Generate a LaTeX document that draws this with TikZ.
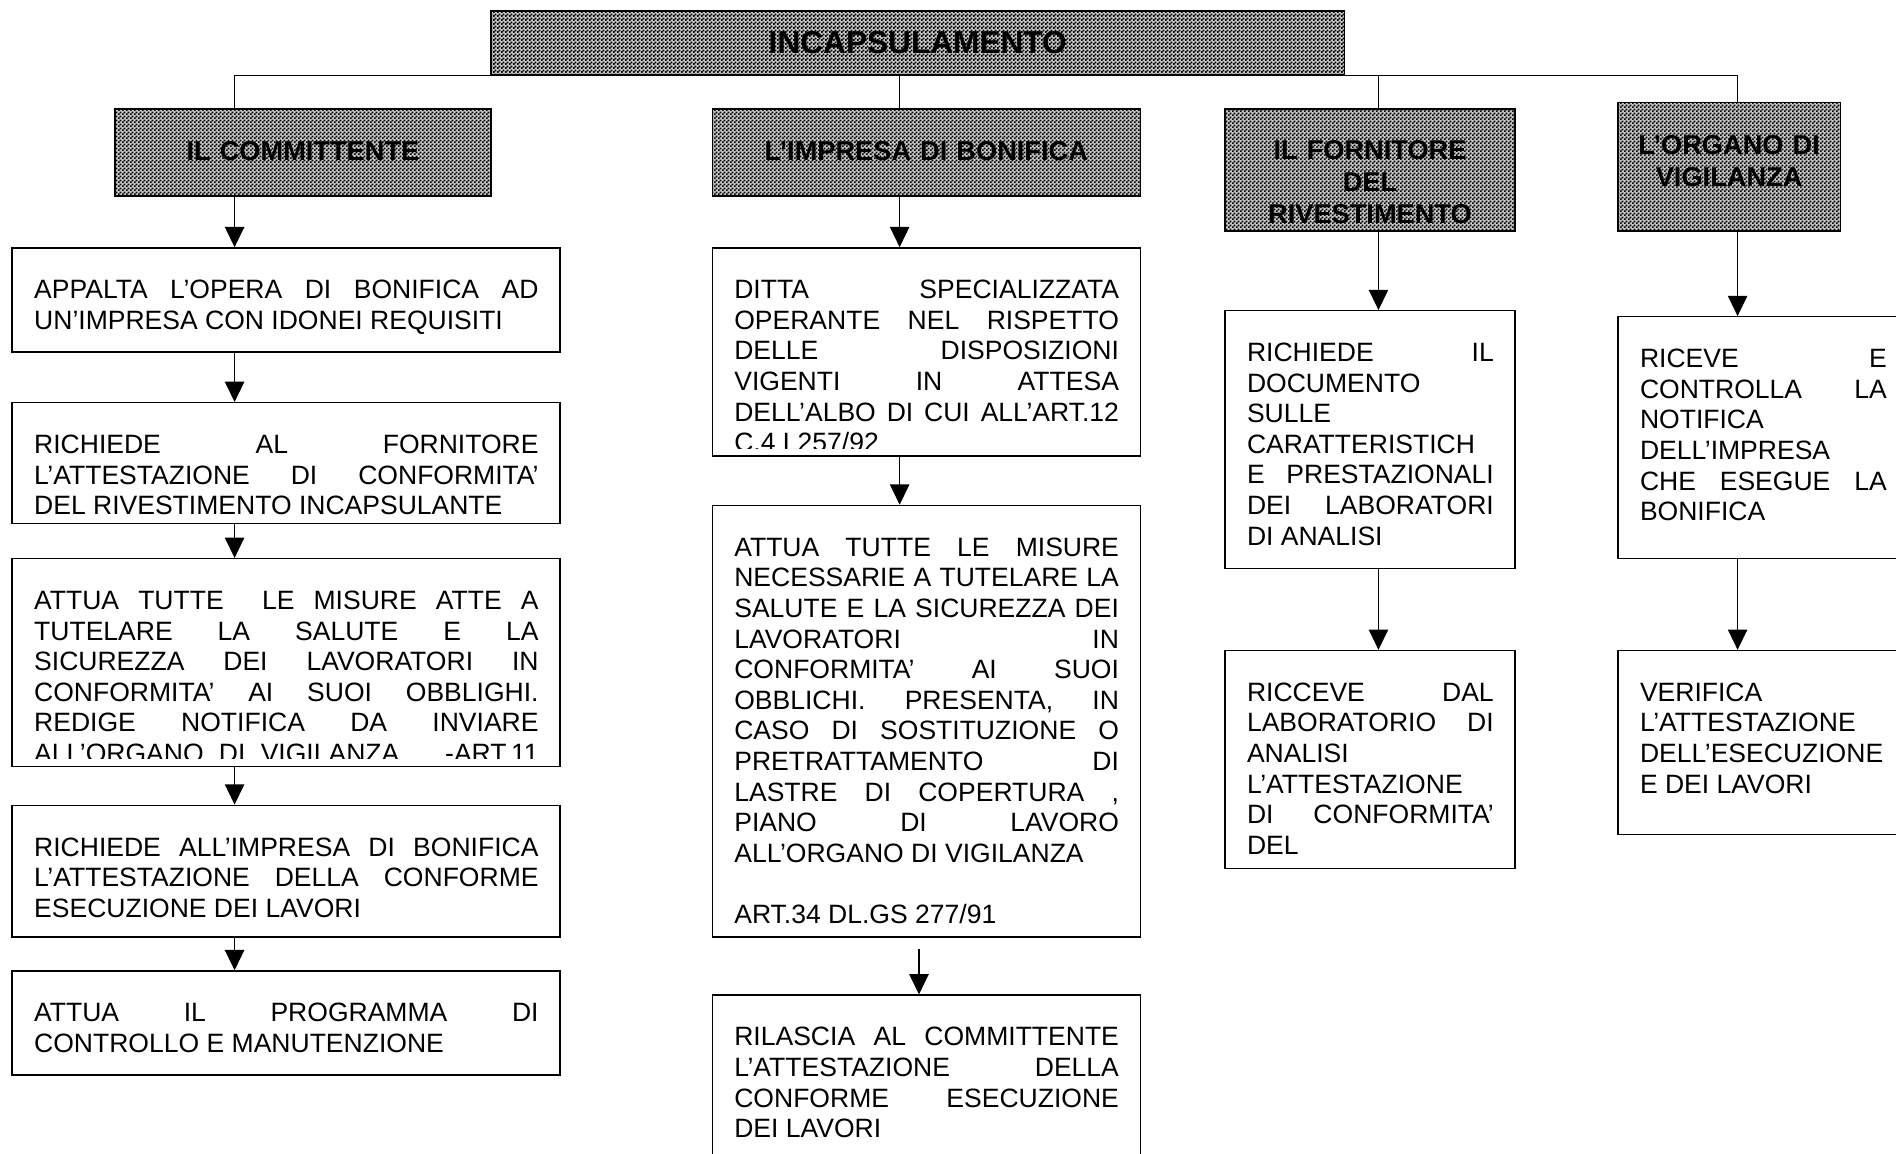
\documentclass[tikz,border=0pt]{standalone}
\usepackage{fontspec}
\setmainfont{Liberation Sans}
\usetikzlibrary{arrows.meta, positioning, fit, patterns}

\pgfdeclarepatternformonly{finechecker}{\pgfpointorigin}{\pgfqpoint{2.4pt}{2.4pt}}{\pgfqpoint{2.4pt}{2.4pt}}{%
  \pgfpathrectangle{\pgfpointorigin}{\pgfqpoint{1.25pt}{1.25pt}}%
  \pgfpathrectangle{\pgfqpoint{1.2pt}{1.2pt}}{\pgfqpoint{1.25pt}{1.25pt}}%
  \pgfusepath{fill}}

\newcommand{\bodyfont}{\fontsize{15.6}{18}\selectfont}
\newcommand{\headfont}{\fontsize{16}{18.9}\selectfont\bfseries}
\newcommand{\titlefont}{\fontsize{18.6}{22}\selectfont\bfseries}

\tolerance=10000
\hbadness=10000
\hfuzz=5pt
\hyphenpenalty=10000
\uchyph=0

\begin{document}
\begin{tikzpicture}[x=0.025cm, y=-0.025cm,
    box/.style={draw, line width=0.8pt, inner sep=0pt},
    head/.style={box, fill=black!22, postaction={pattern=finechecker}},
    body/.style={anchor=base west, inner sep=0pt, text width=#1, align=justify, font=\bodyfont},
    headtxt/.style={anchor=base, inner sep=0pt, text width=#1, align=center, font=\headfont},
    arr/.style={line width=0.8pt, -{Triangle[length=0.42cm, width=0.4cm]}}]

  \useasboundingbox (0,0) rectangle (1568,954);

  % columns of the connectors
  \coordinate (x1) at (194,0);
  \coordinate (x2) at (744,0);
  \coordinate (x2b) at (760,0);
  \coordinate (x3) at (1140,0);
  \coordinate (x4) at (1437,0);

  % title and headers
  \node[head, fit={(406,9) (1112,62)}] (incap) {};
  \node[anchor=base, inner sep=0pt, font=\titlefont] (incaptxt) at (759,44) {INCAPSULAMENTO};

  \node[head, fit={(95,90) (406,162)}] (comm) {};
  \node[headtxt=7cm] (commtxt) at (250.5,133) {IL COMMITTENTE};
  \node[head, fit={(589,90) (943,162)}] (impr) {};
  \node[headtxt=8cm] (imprtxt) at (766,133) {L’IMPRESA DI BONIFICA};
  \node[head, fit={(1013,90) (1253,191)}] (forn) {};
  \node[headtxt=5.5cm] (forntxt) at (1133,132) {IL FORNITORE\\DEL\\RIVESTIMENTO};
  \node[head, fit={(1338,85) (1522,191)}] (orga) {};
  \node[headtxt=4.5cm] (orgatxt) at (1430,128) {L’ORGANO DI\\VIGILANZA};

  \draw[line width=0.8pt] (comm.north -| x1) -- (incap.south -| x1) -- (incap.south -| x4) -- (orga.north -| x4);
  \draw[line width=0.8pt] (incap.south -| x2) -- (impr.north -| x2);
  \draw[line width=0.8pt] (incap.south -| x3) -- (forn.north -| x3);

  % il committente
  \node[box, fit={(10,205) (463,291)}] (comm1) {};
  \node[body=10.425cm] (comm1txt) at (28,247) {APPALTA L’OPERA DI BONIFICA AD\linebreak UN’IMPRESA CON IDONEI REQUISITI};
  \node[box, fit={(10,333) (463,433)}] (comm2) {};
  \node[body=10.425cm] (comm2txt) at (28,375) {RICHIEDE AL FORNITORE\linebreak L’ATTESTAZIONE DI CONFORMITA’\linebreak DEL RIVESTIMENTO INCAPSULANTE};
  \node[box, fit={(10,462) (463,634)}] (comm3) {};
  \begin{scope}
    \clip (comm3.north west) rectangle ([yshift=0.175cm]comm3.south east);
    \node[body=10.425cm] (comm3txt) at (28,504) {ATTUA TUTTE\ \ LE MISURE ATTE A\linebreak TUTELARE LA SALUTE E LA\linebreak SICUREZZA DEI LAVORATORI IN\linebreak CONFORMITA’ AI SUOI OBBLIGHI.\linebreak REDIGE NOTIFICA DA INVIARE\linebreak ALL’ORGANO DI VIGILANZA\ \ \ -ART.11\linebreak};
  \end{scope}
  \node[box, fit={(10,666) (463,775)}] (comm4) {};
  \node[body=10.425cm] (comm4txt) at (28,708) {RICHIEDE ALL’IMPRESA DI BONIFICA\linebreak L’ATTESTAZIONE DELLA CONFORME\linebreak ESECUZIONE DEI LAVORI};
  \node[box, fit={(10,803) (463,889)}] (comm5) {};
  \node[body=10.425cm] (comm5txt) at (28,845) {ATTUA IL PROGRAMMA DI\linebreak CONTROLLO E MANUTENZIONE};

  \draw[arr] (comm.south -| x1) -- (comm1.north -| x1);
  \draw[arr] (comm1.south -| x1) -- (comm2.north -| x1);
  \draw[arr] (comm2.south -| x1) -- (comm3.north -| x1);
  \draw[arr] (comm3.south -| x1) -- (comm4.north -| x1);
  \draw[arr] (comm4.south -| x1) -- (comm5.north -| x1);

  % l'impresa di bonifica
  \node[box, fit={(589,205) (943,377)}] (impr1) {};
  \begin{scope}
    \clip (impr1.north west) rectangle ([yshift=0.175cm]impr1.south east);
    \node[body=7.95cm] (impr1txt) at (607,247) {DITTA SPECIALIZZATA\linebreak OPERANTE NEL RISPETTO\linebreak DELLE DISPOSIZIONI\linebreak VIGENTI IN ATTESA\linebreak DELL’ALBO DI CUI ALL’ART.12\linebreak C.4 L257/92};
  \end{scope}
  \node[box, fit={(589,418) (943,775)}] (impr2) {};
  \node[body=7.95cm] (impr2txt) at (607,460) {ATTUA TUTTE LE MISURE\linebreak NECESSARIE A TUTELARE LA\linebreak SALUTE E LA SICUREZZA DEI\linebreak LAVORATORI IN\linebreak CONFORMITA’ AI SUOI\linebreak OBBLICHI. PRESENTA, IN\linebreak CASO DI SOSTITUZIONE O\linebreak PRETRATTAMENTO DI\linebreak LASTRE DI COPERTURA ,\linebreak PIANO DI LAVORO\linebreak ALL’ORGANO DI VIGILANZA\par\mbox{}\par ART.34 DL.GS 277/91};
  \node[box, fit={(589,823) (943,980)}] (impr3) {};
  \node[body=7.95cm] (impr3txt) at (607,865) {RILASCIA AL COMMITTENTE\linebreak L’ATTESTAZIONE DELLA\linebreak CONFORME ESECUZIONE\linebreak DEI LAVORI};

  \draw[arr] (impr.south -| x2) -- (impr1.north -| x2);
  \draw[arr] (impr1.south -| x2) -- (impr2.north -| x2);
  \draw[arr] ([yshift=-0.225cm]impr2.south -| x2b) -- (impr3.north -| x2b);

  % il fornitore del rivestimento
  \node[box, fit={(1013,257) (1253,470)}] (forn1) {};
  \node[body=5.1cm] (forn1txt) at (1031,299) {RICHIEDE IL\linebreak DOCUMENTO\linebreak SULLE\linebreak CARATTERISTICH\linebreak E PRESTAZIONALI\linebreak DEI LABORATORI\linebreak DI ANALISI};
  \node[box, fit={(1013,538) (1253,718)}] (forn2) {};
  \node[body=5.1cm] (forn2txt) at (1031,580) {RICCEVE DAL\linebreak LABORATORIO DI\linebreak ANALISI\linebreak L’ATTESTAZIONE\linebreak DI CONFORMITA’\linebreak DEL};

  \draw[arr] (forn.south -| x3) -- (forn1.north -| x3);
  \draw[arr] (forn1.south -| x3) -- (forn2.north -| x3);

  % l'organo di vigilanza
  \node[box, fit={(1338,262) (1578,462)}] (orga1) {};
  \node[body=5.1cm] (orga1txt) at (1356,304) {RICEVE E\linebreak CONTROLLA LA\linebreak NOTIFICA\linebreak DELL’IMPRESA\linebreak CHE ESEGUE LA\linebreak BONIFICA};
  \node[box, fit={(1338,538) (1578,690)}] (orga2) {};
  \node[body=5.1cm] (orga2txt) at (1356,580) {VERIFICA\linebreak L’ATTESTAZIONE\linebreak DELL’ESECUZIONE\linebreak E DEI LAVORI};

  \draw[arr] (orga.south -| x4) -- (orga1.north -| x4);
  \draw[arr] (orga1.south -| x4) -- (orga2.north -| x4);
\end{tikzpicture}
\end{document}
